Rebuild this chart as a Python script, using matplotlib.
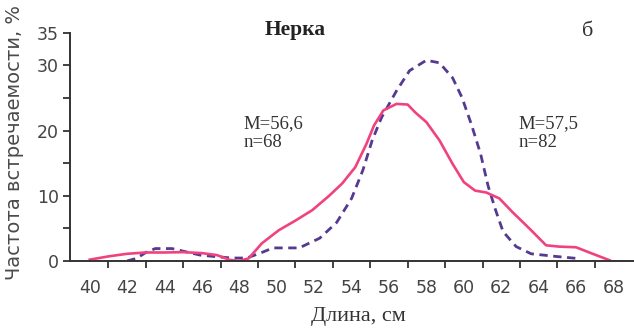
import matplotlib.pyplot as plt
import numpy as np

# length, cm, and frequency of occurrence, %
len_a = [40.0, 41.0, 42.0, 43.0, 44.0, 45.0, 46.0, 46.8, 47.5, 48.0, 48.5, 49.2, 50.1, 51.0, 51.9, 52.8,
         53.5, 54.2, 54.8, 55.2, 55.7, 56.4, 57.0, 57.4, 58.0, 58.7, 59.4, 60.0, 60.6, 61.2, 61.9, 62.6,
         63.5, 64.4, 65.1, 66.0, 66.8, 67.8]
freq_a = [0.2, 0.7, 1.1, 1.3, 1.3, 1.35, 1.2, 0.9, 0.15, 0.0, 0.4, 2.7, 4.7, 6.2, 7.8, 10.0,
          11.9, 14.4, 18.0, 20.8, 23.1, 24.1, 24.0, 22.8, 21.3, 18.5, 14.9, 12.1, 10.8, 10.5, 9.6, 7.5,
          5.0, 2.4, 2.2, 2.1, 1.2, 0.1]

len_b = [42.0, 42.5, 43.0, 43.5, 44.4, 45.0, 45.9, 46.6, 47.6, 48.4, 49.2, 49.8, 51.2, 52.3, 53.2,
         54.0, 54.6, 55.1, 55.6, 56.4, 57.1, 58.0, 58.7, 59.4, 59.9, 60.4, 60.9, 61.3, 61.7, 62.1,
         62.8, 63.6, 64.9, 66.0]
freq_b = [0.0, 0.4, 1.3, 1.9, 1.9, 1.5, 0.9, 0.7, 0.45, 0.45, 1.3, 2.0, 2.0, 3.5, 5.9,
          9.6, 13.9, 18.5, 22.0, 26.1, 29.2, 30.8, 30.4, 28.1, 25.1, 21.0, 16.4, 11.5, 7.8, 4.5,
          2.2, 1.1, 0.7, 0.4]

stats_a = 'M=56,6\nn=68'
stats_b = 'M=57,5\nn=82'

fig = plt.figure(figsize=(6.34, 3.32), dpi=100)
ax = fig.add_axes([0.110, 0.214, 0.890, 0.687])

ax.plot(len_b, freq_b, color='#553a8f', lw=2.0, dashes=(3.0, 2.0), dash_capstyle='butt')
ax.plot(len_a, freq_a, color='#f0427f', lw=1.9, solid_joinstyle='round')

ax.set_xlim(38.93, 69.1)
ax.set_ylim(0, 35)
ax.spines['top'].set_visible(False)
ax.spines['right'].set_visible(False)
for s in ('left', 'bottom'):
    ax.spines[s].set_color('#333333')
    ax.spines[s].set_linewidth(1.4)

# ticks sit at odd lengths, labels at even ones
ax.set_xticks(np.arange(41, 68, 2))
ax.set_xticklabels([])
ax.set_xticks(np.arange(40, 69, 2), minor=True)
ax.set_xticklabels([str(v) for v in range(40, 69, 2)], minor=True)
ax.tick_params(axis='x', which='major', direction='out', length=5, width=1.3, color='#333333')
ax.tick_params(axis='x', which='minor', length=0, pad=13, labelsize=12.5, labelcolor='#444444')

ax.set_yticks([0, 10, 20, 30, 35])
ax.set_yticks([5, 15, 25], minor=True)
ax.tick_params(axis='y', which='both', direction='out', length=5, width=1.3, color='#333333',
               labelsize=12.5, labelcolor='#444444', pad=3)

fig.text(15 / 634, 1 - 143 / 332, 'Частота встречаемости, %', rotation=90, ha='center', va='center',
         fontsize=14, color='#4a4a4a')
fig.text(358 / 634, 1 - 317 / 332, 'Длина, см', ha='center', va='center',
         fontsize=16, family='Liberation Serif', color='#333333')
fig.text(295 / 634, 1 - 30 / 332, 'Нерка', ha='center', va='center',
         fontsize=15.5, family='Liberation Serif', weight='bold', color='#222222')
fig.text(588 / 634, 1 - 31 / 332, 'б', ha='center', va='center',
         fontsize=16, family='Liberation Serif', color='#333333')

ax.text(48.2, 19.6, stats_a, ha='left', va='center', fontsize=13.5,
        family='Liberation Serif', color='#333333', linespacing=1.1)
ax.text(62.9, 19.6, stats_b, ha='left', va='center', fontsize=13.5,
        family='Liberation Serif', color='#333333', linespacing=1.1)

plt.savefig('out.png', dpi=100)
